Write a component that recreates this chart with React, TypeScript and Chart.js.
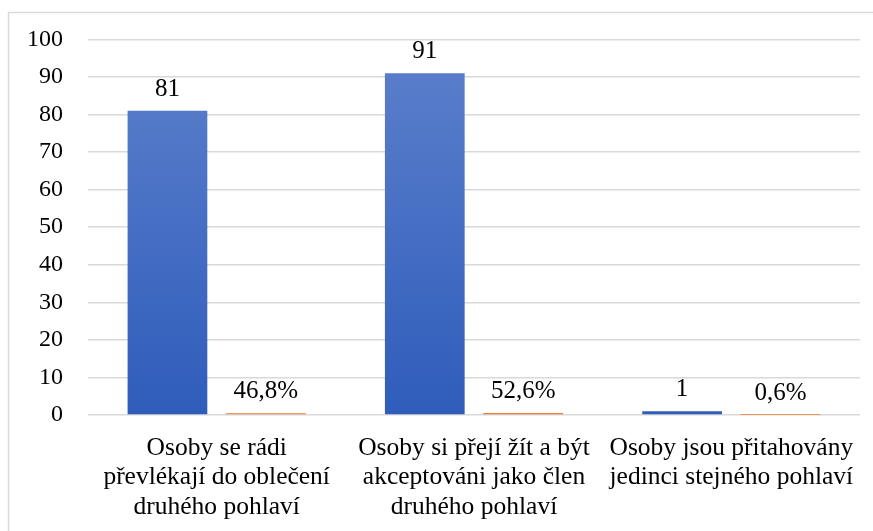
import React, { useEffect, useRef } from "react";
import { Chart, registerables } from "chart.js";

Chart.register(...registerables);

const categories: string[][] = [
  ["Osoby se rádi", "převlékají do oblečení", "druhého pohlaví"],
  ["Osoby si přejí žít a být", "akceptováni jako člen", "druhého pohlaví"],
  ["Osoby jsou přitahovány", "jedinci stejného pohlaví"],
];
const counts: number[] = [81, 91, 1];
const shares: number[] = [0.468, 0.526, 0.006];
const yTicks: number[] = [0, 10, 20, 30, 40, 50, 60, 70, 80, 90, 100];

const FONT = "'Liberation Serif', 'Times New Roman', serif";

const fmtShare = (v: number) => (v * 100).toFixed(1).replace(".", ",") + "%";

const framePlugin = {
  id: "frame",
  beforeDraw(chart: any) {
    const ctx = chart.ctx;
    ctx.save();
    ctx.fillStyle = "#ffffff";
    ctx.fillRect(0, 0, chart.width, chart.height);
    ctx.strokeStyle = "#d9d9d9";
    ctx.lineWidth = 1.5;
    ctx.beginPath();
    ctx.moveTo(8.5, chart.height);
    ctx.lineTo(8.5, 12.5);
    ctx.lineTo(chart.width, 12.5);
    ctx.stroke();
    ctx.restore();
  },
};

const labelPlugin = {
  id: "valueLabels",
  afterDatasetsDraw(chart: any) {
    const ctx = chart.ctx;
    ctx.save();
    ctx.font = `25px ${FONT}`;
    ctx.fillStyle = "#000000";
    ctx.textAlign = "center";
    ctx.textBaseline = "alphabetic";
    chart.data.datasets.forEach((ds: any, di: number) => {
      const meta = chart.getDatasetMeta(di);
      meta.data.forEach((bar: any, i: number) => {
        const v = ds.data[i];
        const text = di === 0 ? String(v) : fmtShare(v);
        ctx.fillText(text, bar.x, bar.y - 15);
      });
    });
    ctx.restore();
  },
};

export default function App() {
  const ref = useRef<HTMLCanvasElement>(null);
  useEffect(() => {
    document.body.style.margin = "0";
    const canvas = ref.current!;
    const chart = new Chart(canvas, {
      type: "bar",
      data: {
        labels: categories,
        datasets: [
          {
            label: "Počet",
            data: counts,
            backgroundColor: (c: any) => {
              const area = c.chart.chartArea;
              if (!area) return "#4472c4";
              const g = c.chart.ctx.createLinearGradient(0, area.top, 0, area.bottom);
              g.addColorStop(0, "#5d80cc");
              g.addColorStop(1, "#2f5dbb");
              return g;
            },
            categoryPercentage: 0.765,
            barPercentage: 0.81,
          },
          {
            label: "Podíl",
            data: shares,
            backgroundColor: "#ed7d31",
            categoryPercentage: 0.765,
            barPercentage: 0.81,
          },
        ],
      },
      options: {
        responsive: false,
        animation: false,
        devicePixelRatio: 1,
        layout: { padding: { left: 0, top: 39, right: 13, bottom: 0 } },
        plugins: {
          legend: { display: false },
          tooltip: { enabled: false },
        },
        scales: {
          x: {
            grid: { display: false },
            border: { display: false },
            ticks: {
              color: "#000000",
              font: { family: FONT, size: 25.5, lineHeight: 1.17 },
              padding: 10,
              maxRotation: 0,
              autoSkip: false,
            },
            afterFit: (s: any) => {
              s.height = 116;
            },
          },
          y: {
            min: 0,
            max: 100,
            afterBuildTicks: (s: any) => {
              s.ticks = yTicks.map((v) => ({ value: v }));
            },
            grid: { color: "#d9d9d9", lineWidth: 1.5, drawTicks: false },
            border: { display: false },
            ticks: {
              color: "#000000",
              font: { family: FONT, size: 24 },
              padding: 25,
            },
            afterFit: (s: any) => {
              s.width = 88;
            },
          },
        },
      },
      plugins: [framePlugin, labelPlugin],
    });
    return () => chart.destroy();
  }, []);
  return <canvas ref={ref} width={873} height={531} style={{ display: "block" }} />;
}
